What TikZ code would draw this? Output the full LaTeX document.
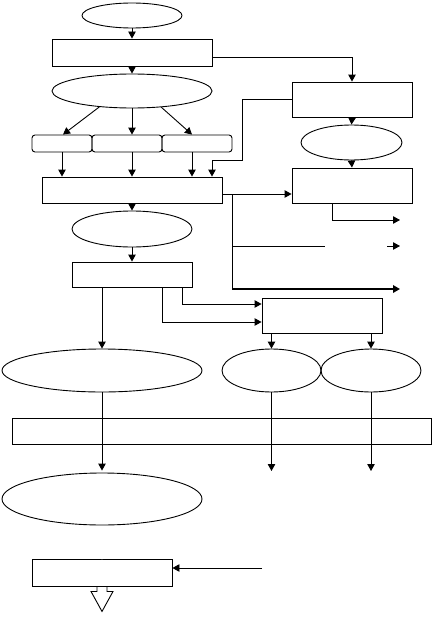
\documentclass[tikz,border=0pt]{standalone}
\usetikzlibrary{arrows.meta,shapes.geometric}
\begin{document}
\begin{tikzpicture}[x=1pt,y=-1pt,line width=0.9pt,
  arr/.style={-{Triangle[length=7pt,width=7.5pt]}},
  boxn/.style={draw,rectangle,inner sep=0pt},
  ovaln/.style={draw,ellipse,inner sep=0pt},
  rbox/.style={draw,rectangle,rounded corners=3pt,inner sep=0pt,minimum height=17pt}]
\useasboundingbox (0,0) rectangle (432,626);
% nodes
\node[ovaln,minimum width=100pt,minimum height=25pt] (e1) at (132,15.5) {};
\node[boxn,minimum width=160pt,minimum height=27pt] (r1) at (132,52.5) {};
\node[ovaln,minimum width=160pt,minimum height=34pt] (e2) at (132,91) {};
\node[boxn,minimum width=120pt,minimum height=35pt] (R1) at (352,99.5) {};
\node[ovaln,minimum width=101pt,minimum height=35pt] (R2) at (351.5,142.5) {};
\node[rbox,minimum width=60pt] (b1) at (62,143.5) {};
\node[rbox,minimum width=70pt] (b2) at (127,143.5) {};
\node[rbox,minimum width=70pt] (b3) at (197,143.5) {};
\node[boxn,minimum width=180pt,minimum height=26pt] (r2) at (132,190) {};
\node[boxn,minimum width=120pt,minimum height=35pt] (R3) at (352,185.5) {};
\node[ovaln,minimum width=120pt,minimum height=36pt] (e3) at (132,229) {};
\node[boxn,minimum width=120pt,minimum height=25pt] (r3) at (132,274.5) {};
\node[boxn,minimum width=120pt,minimum height=35pt] (R4) at (322,315.5) {};
\node[ovaln,minimum width=200pt,minimum height=43pt] (e4) at (102,370.5) {};
\node[ovaln,minimum width=99pt,minimum height=43pt] (e5) at (271.5,370.5) {};
\node[ovaln,minimum width=100pt,minimum height=43pt] (e6) at (371,370.5) {};
\node[boxn,minimum width=419pt,minimum height=26pt] (wide) at (221.5,431) {};
\node[ovaln,minimum width=200pt,minimum height=52pt] (e7) at (102,499) {};
\node[boxn,minimum width=140pt,minimum height=27pt] (r5) at (102,572.5) {};
% free ends
\coordinate (j1) at (232,194);
\coordinate (t1) at (400,220);
\coordinate (t2a) at (325,246);
\coordinate (t2b) at (387,246);
\coordinate (t2c) at (400,246);
\coordinate (t3) at (400,289);
\coordinate (lt) at (0,471);
\coordinate (t5) at (262,568);
% connectors
\draw[arr] (e1.south) -- (r1.north);
\draw[arr] (r1.south) -- (e2.north);
\draw[arr] ([yshift=-4.5pt]r1.east) -| (R1.north);
\draw[arr] (R1.west) -- (242,99.5) -- (242,160) -| ([xshift=80pt]r2.north);
\draw[arr] (e2.206) -- ([xshift=1pt]b1.north);
\draw[arr] (e2.south) -- ([xshift=5pt]b2.north);
\draw[arr] (e2.331) -- ([xshift=-5pt]b3.north);
\draw[arr] (b1.south) -- (b1.south |- r2.north);
\draw[arr] ([xshift=5pt]b2.south) -- (r2.north);
\draw[arr] ([xshift=-5pt]b3.south) -- ([xshift=60pt]r2.north);
\draw[arr] (R1.south) -- (R2.north);
\draw[arr] (R2.south) -- (R3.north);
\draw[arr] (j1 -| r2.east) -- (j1 -| R3.west);
\draw (j1) -- (j1 |- t3);
\draw[arr,line width=2pt] (j1 |- t3) -- (t3);
\draw (j1 |- t2a) -- (t2a);
\draw[arr] (t2b) -- (t2c);
\draw[arr] ([xshift=-20pt]R3.south) |- (t1);
\draw[arr] (r2.south) -- (e3.north);
\draw[arr] (e3.south) -- (r3.north);
\draw[arr] ([xshift=50pt]r3.south) |- ([yshift=11.5pt]R4.west);
\draw[arr] ([xshift=30pt]r3.south) |- ([yshift=-6.5pt]R4.west);
\draw[arr] ([xshift=-30pt]r3.south) -- (e4.north);
\draw[arr] (R4.south -| e5.north) -- (e5.north);
\draw[arr] (R4.south -| e6.north) -- (e6.north);
\draw[arr] (e4.south) -- ([yshift=2pt]e7.north);
\draw[arr] (e5.south) -- (e5.south |- lt);
\draw[arr] (e6.south) -- (e6.south |- lt);
\draw[arr] (t5) -- (t5 -| r5.east);
% block arrow below r5
\fill[white] ([xshift=-5pt,yshift=1pt]r5.south) -- ++(0,-6) -- ++(-6,0) -- ++(11,-20) -- ++(11,20) -- ++(-6,0) -- ++(0,6) -- cycle;
\draw ([xshift=-5pt]r5.south) -- ++(0,5) -- ++(-6,0) -- ++(11,20) -- ++(11,-20) -- ++(-6,0) -- ++(0,-5);
\end{tikzpicture}
\end{document}
